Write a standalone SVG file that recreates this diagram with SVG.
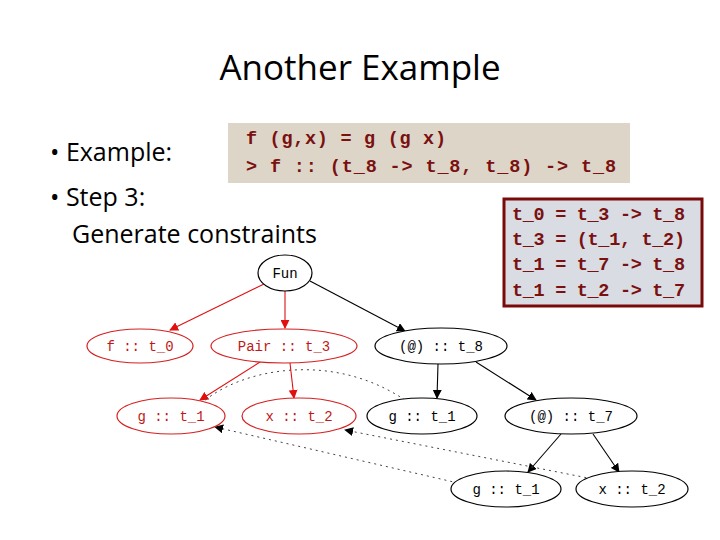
<svg xmlns="http://www.w3.org/2000/svg" width="720" height="540" viewBox="0 0 720 540">
<style>
.t{font-family:"Open Sans","Liberation Sans",sans-serif;fill:#000}
.m{font-family:"Liberation Mono",monospace;font-weight:bold;fill:#7a1010;font-size:18.5px}
.n ellipse{fill:#fff;stroke:#000;stroke-width:1.2}
.n text{font-family:"Liberation Mono",monospace;font-size:14px;text-anchor:middle;fill:#000}
.r ellipse{stroke:#d42020}
.r text{fill:#c01818}
.e{stroke:#000;stroke-width:1.1;fill:none}
.er{stroke:#e01010;stroke-width:1.1;fill:none}
.d{stroke:#444;stroke-width:1;stroke-dasharray:2,4;fill:none}
</style>
<defs>
<marker id="a" viewBox="0 0 10 10" refX="9" refY="5" markerWidth="9" markerHeight="9" orient="auto" markerUnits="userSpaceOnUse"><path d="M0,0L10,5L0,10z" fill="#000"/></marker>
<marker id="ar" viewBox="0 0 10 10" refX="9" refY="5" markerWidth="9" markerHeight="9" orient="auto" markerUnits="userSpaceOnUse"><path d="M0,0L10,5L0,10z" fill="#e01010"/></marker>
</defs>
<rect width="720" height="540" fill="#fff"/>
<text class="t" x="360" y="80" font-size="35" text-anchor="middle">Another Example</text>
<text class="t" x="50" y="161" font-size="25">• Example:</text>
<text class="t" x="50" y="206" font-size="25">• Step 3:</text>
<text class="t" x="72" y="243" font-size="25">Generate constraints</text>
<g id="code">
<rect x="228" y="123" width="402" height="60" fill="#ddd5c8"/>
<text class="m" x="246" y="144" textLength="200" xml:space="preserve">f (g,x) = g (g x)</text>
<text class="m" x="246" y="172" textLength="370" xml:space="preserve">&gt; f :: (t_8 -&gt; t_8, t_8) -&gt; t_8</text>
</g>
<g id="constraints">
<rect x="504" y="199" width="198" height="107" fill="#d9dce3" stroke="#7a0a0a" stroke-width="3"/>
<text class="m" x="512" y="220" font-size="17.5" textLength="173" xml:space="preserve">t_0 = t_3 -&gt; t_8</text>
<text class="m" x="512" y="245" font-size="17.5" textLength="173" xml:space="preserve">t_3 = (t_1, t_2)</text>
<text class="m" x="512" y="270" font-size="17.5" textLength="173" xml:space="preserve">t_1 = t_7 -&gt; t_8</text>
<text class="m" x="512" y="296" font-size="17.5" textLength="173" xml:space="preserve">t_1 = t_2 -&gt; t_7</text>
</g>
<g id="connectors">
<path class="er" d="M264,284L170,330" marker-end="url(#ar)"/>
<path class="er" d="M285,291L285,328" marker-end="url(#ar)"/>
<path class="e" d="M310,281L405,331" marker-end="url(#a)"/>
<path class="er" d="M260,362L200,400" marker-end="url(#ar)"/>
<path class="er" d="M290,363L294,398" marker-end="url(#ar)"/>
<path class="e" d="M438,364L437,398" marker-end="url(#a)"/>
<path class="e" d="M476,362L536,400" marker-end="url(#a)"/>
<path class="e" d="M561,434L528,472" marker-end="url(#a)"/>
<path class="e" d="M593,434L619,472" marker-end="url(#a)"/>
<path class="d" d="M405,400C330,350 240,370 203,402"/>
<path class="d" d="M458,483L215,427" marker-end="url(#a)"/>
<path class="d" d="M598,480L345,430" marker-end="url(#a)"/>
</g>
<g id="n_fun" class="n"><ellipse cx="285" cy="273" rx="27" ry="18"/><text x="285" y="278">Fun</text></g>
<g id="n_f" class="n r"><ellipse cx="140" cy="346" rx="53" ry="17"/><text x="140" y="351">f :: t_0</text></g>
<g id="n_pair" class="n r"><ellipse cx="284" cy="346" rx="73" ry="17"/><text x="284" y="351">Pair :: t_3</text></g>
<g id="n_at8" class="n"><ellipse cx="441" cy="346" rx="66" ry="18"/><text x="441" y="351">(@) :: t_8</text></g>
<g id="n_g1r" class="n r"><ellipse cx="171" cy="416" rx="54" ry="18"/><text x="171" y="421">g :: t_1</text></g>
<g id="n_x2r" class="n r"><ellipse cx="299" cy="416" rx="57" ry="18"/><text x="299" y="421">x :: t_2</text></g>
<g id="n_g1" class="n"><ellipse cx="422" cy="416" rx="55" ry="18"/><text x="422" y="421">g :: t_1</text></g>
<g id="n_at7" class="n"><ellipse cx="571" cy="416" rx="66" ry="18"/><text x="571" y="421">(@) :: t_7</text></g>
<g id="n_g1b" class="n"><ellipse cx="506" cy="489" rx="55" ry="18"/><text x="506" y="494">g :: t_1</text></g>
<g id="n_x2b" class="n"><ellipse cx="632" cy="489" rx="56" ry="18"/><text x="632" y="494">x :: t_2</text></g>
</svg>
